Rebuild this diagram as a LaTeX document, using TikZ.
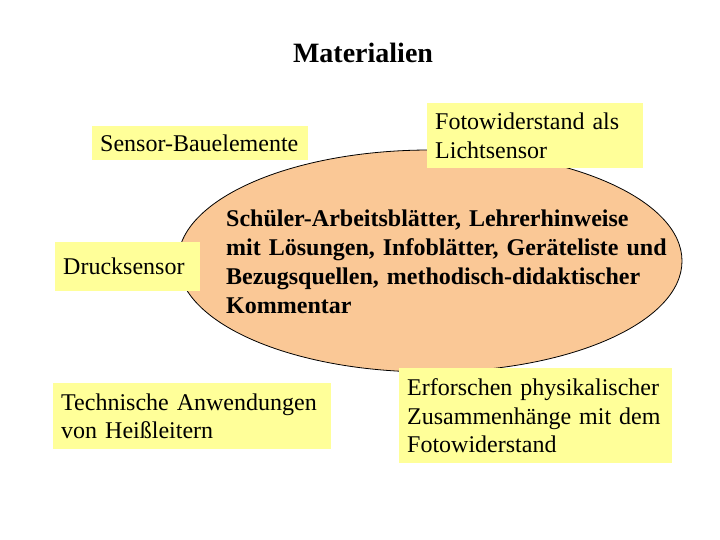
\documentclass[tikz,border=0pt]{standalone}
\usepackage{fontspec}
\setmainfont{Liberation Serif}
\usetikzlibrary{shapes.geometric}
\definecolor{boxyellow}{HTML}{FFFF99}
\definecolor{peach}{HTML}{FAC896}
\tikzset{
  ybox/.style={fill=boxyellow, anchor=north west, align=left, inner xsep=8pt, inner ysep=2pt,
    font=\fontsize{24}{28.8}\selectfont},
}
\begin{document}
\begin{tikzpicture}[x=1pt,y=-1pt]
\useasboundingbox (0,0) rectangle (720,540);
\node[font=\fontsize{28}{32}\selectfont\bfseries] (title) at (363,53) {Materialien};
\node[ellipse, draw=black, line width=0.8pt, fill=peach, inner sep=0pt,
  minimum width=504pt, minimum height=222pt] (ell) at (430,261) {};
\node[anchor=north west, align=left, inner sep=0pt, text width=450pt,
  font=\fontsize{24}{29}\selectfont\bfseries] (center) at (226,210)
  {Schüler-Arbeitsblätter, Lehrerhinweise\\ mit Lösungen, Infoblätter, Geräteliste und\\ Bezugsquellen, methodisch-didaktischer\\ Kommentar};
\node[ybox, text width=200pt, minimum height=34pt] (sensor) at (92,126) {Sensor-Bauelemente};
\node[ybox, text width=200pt, minimum height=65pt] (foto) at (427,103) {Fotowiderstand als\\ Lichtsensor};
\node[ybox, text width=129pt, minimum height=49pt] (druck) at (55,242) {Drucksensor};
\node[ybox, text width=262pt, minimum height=66pt] (techn) at (53,383) {Technische Anwendungen\\ von Heißleitern};
\node[ybox, text width=257pt, minimum height=95pt] (erf) at (399,368) {Erforschen physikalischer\\ Zusammenhänge mit dem\\ Fotowiderstand};
\end{tikzpicture}
\end{document}
